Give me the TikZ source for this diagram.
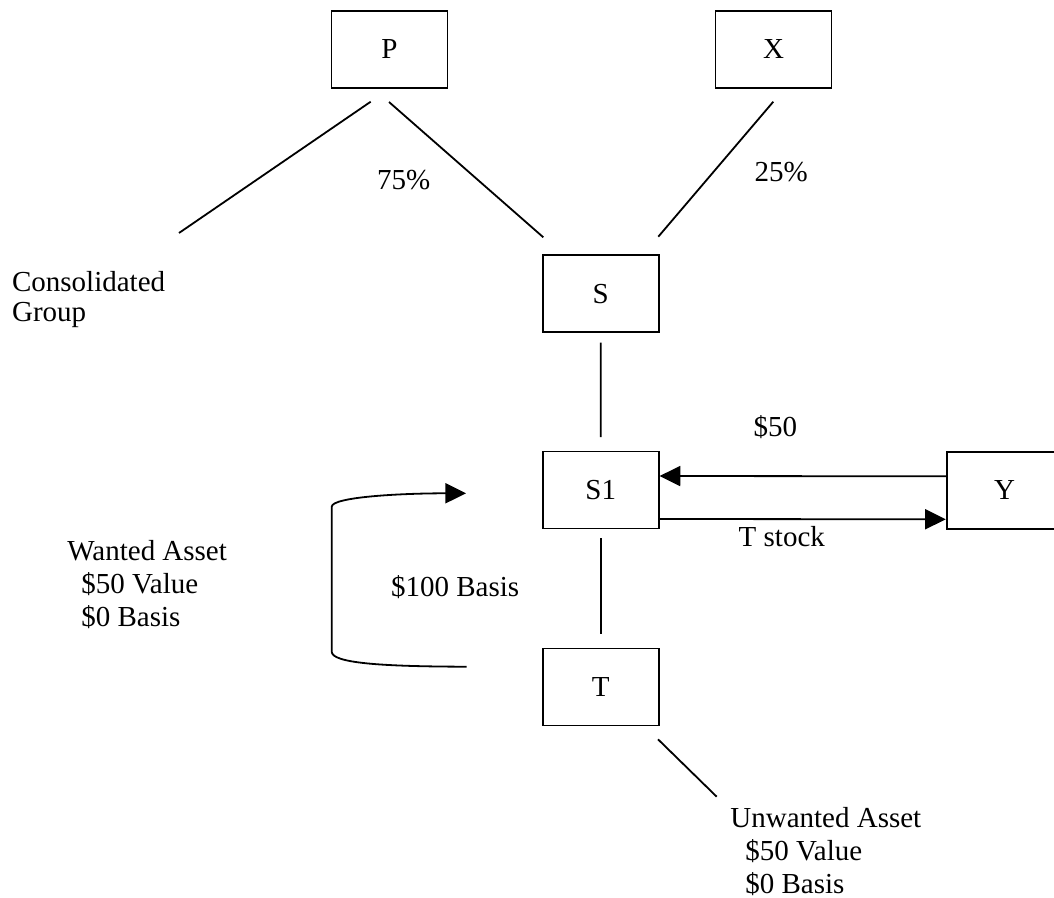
\documentclass[tikz,border=0pt]{standalone}
\usepackage{fontspec}
\setmainfont{Liberation Serif}
\usetikzlibrary{arrows.meta}
\begin{document}
\begin{tikzpicture}[x=0.5pt,y=-0.5pt,
  entity/.style={draw,line width=0.95pt,minimum width=58pt,minimum height=38.5pt,inner sep=0pt,font=\fontsize{14.5}{16.5}\selectfont},
  link/.style={line width=0.9pt},
  flow/.style={line width=0.9pt,-{Triangle[length=10.3pt,width=10pt]}},
  lbl/.style={anchor=base west,inner sep=0pt,align=left,font=\fontsize{14.5}{16.5}\selectfont}]
\clip (0,0) rectangle (1054,898);

% entities
\node[entity] (P)  at (389.5,49.5)  {P};
\node[entity] (X)  at (773.5,49.5)  {X};
\node[entity] (S)  at (600.8,293.7) {S};
\node[entity] (S1) at (600.7,490)   {S1};
\node[entity] (T)  at (600.7,687)   {T};
\node[entity] (Y)  at (1004.7,490.3) {Y};

% ownership lines
\coordinate (pl1) at (370.7,101.7);
\coordinate (pl2) at (179,233);
\coordinate (ps1) at (389,102);
\coordinate (ps2) at (543.3,237.3);
\coordinate (xs1) at (773.3,101.7);
\coordinate (xs2) at (658.3,236.7);
\coordinate (ta1) at (658,739.3);
\coordinate (ta2) at (716.7,796.7);
\draw[link] (pl1) -- (pl2);
\draw[link] (ps1) -- (ps2);
\draw[link] (xs1) -- (xs2);
\draw[link,shorten <=4.7pt,shorten >=6.7pt] (S) -- (S1);
\draw[link,shorten <=4.5pt,shorten >=6.6pt] (S1) -- (T);
\draw[link] (ta1) -- (ta2);

% exchange with Y
\draw[flow] ([yshift=7pt]Y.west) -- ([yshift=7pt]S1.east);
\draw[flow] ([yshift=-14.5pt]S1.east) -- ([yshift=-14.5pt]Y.west);

% distribution loop from T to S1
\coordinate (loopstart) at (466.7,666.7);
\coordinate (loopend) at (466,493.3);
\draw[flow] (loopstart) .. controls (380,666.5) and (332,663) .. (331.7,651.7)
  -- (331.7,506.7) .. controls (332,497) and (400,493.3) .. (loopend);

% labels (multi-line ones are placed by the baseline of their last line)
\node[lbl] (l75) at (376.7,190) {75\%};
\node[lbl] (l25) at (754.3,181.7) {25\%};
\node[lbl,font=\fontsize{14.5}{15}\selectfont] (cg) at (11.7,321.7) {Consolidated\\Group};
\node[lbl] (l50) at (753.3,436.7) {\$50};
\node[lbl] (ts) at (738.3,546.7) {T stock};
\node[lbl] (b100) at (390.7,596.7) {\$100 Basis};
\node[lbl] (wa) at (67,626) {Wanted Asset\\\hspace*{7pt}\$50 Value\\\hspace*{7pt}\$0 Basis};
\node[lbl] (ua) at (730,893.3) {Unwanted Asset\\\hspace*{7.5pt}\$50 Value\\\hspace*{7.5pt}\$0 Basis};
\end{tikzpicture}
\end{document}
